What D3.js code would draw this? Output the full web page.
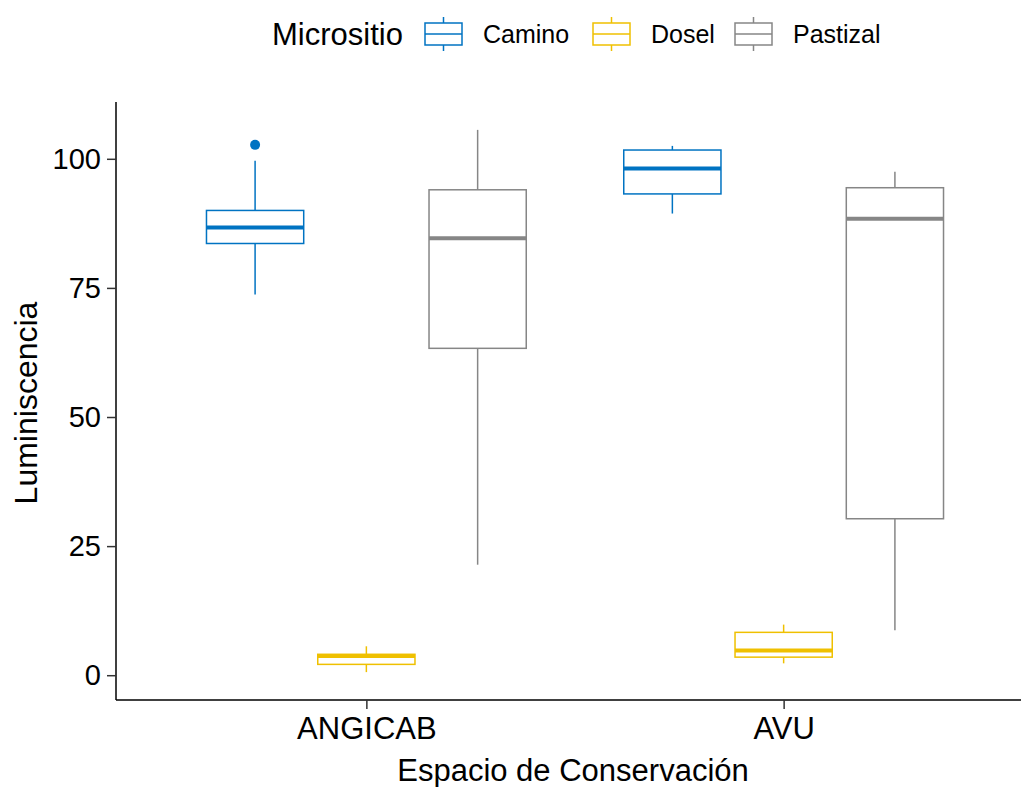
<!DOCTYPE html>
<html>
<head>
<meta charset="utf-8">
<script src="https://cdn.jsdelivr.net/npm/d3@7"></script>
<style>
  body { margin: 0; background: #fff; }
  svg { font-family: "Liberation Sans", Arial, sans-serif; }
</style>
</head>
<body>
<svg class="chart" width="1021" height="787"></svg>
<script>
// data
const sites = ["ANGICAB", "AVU"];
const microsites = ["Camino", "Dosel", "Pastizal"];
const colors = ["#0073C2", "#EFC000", "#868686"];

// one row per site, one entry per micrositio
const lowerWhisker = [[73.7, 0.6, 21.4], [89.4, 2.3, 8.7]];
const q1 = [[83.6, 2.1, 63.3], [93.2, 3.5, 30.3]];
const median = [[86.7, 3.7, 84.6], [98.1, 4.8, 88.4]];
const q3 = [[90.0, 4.05, 94.0], [101.7, 8.3, 94.4]];
const upperWhisker = [[99.6, 5.6, 105.6], [102.5, 9.8, 97.5]];
const outliers = [[[102.7], [], []], [[], [], []]];

const yTicks = [0, 25, 50, 75, 100];

const boxes = [];
sites.forEach((s, i) => {
  microsites.forEach((m, j) => {
    boxes.push({
      site: s, micro: m, j: j,
      lo: lowerWhisker[i][j], q1: q1[i][j], med: median[i][j],
      q3: q3[i][j], hi: upperWhisker[i][j], out: outliers[i][j]
    });
  });
});

const svg = d3.select(".chart");
const panel = { left: 116, right: 1034, top: 102, bottom: 700 };

//make scales
const xScale = d3.scalePoint()
  .domain(sites)
  .range([panel.left, panel.right])
  .padding(0.6);
const step = xScale.step();
const dodge = d3.scaleBand()
  .domain(microsites)
  .range([-0.4 * step, 0.4 * step]);
const boxWidth = 0.233 * step;
const yScale = d3.scaleLinear()
  .domain([-4.8, 111])
  .range([panel.bottom, panel.top]);
const color = d3.scaleOrdinal().domain(microsites).range(colors);

const cx = d => xScale(d.site) + dodge(d.micro) + dodge.bandwidth() / 2;

// boxes
const g = svg.append("g");
const box = g.selectAll("g.box").data(boxes).enter().append("g").attr("class", "box");

box.append("line")
  .attr("x1", cx).attr("x2", cx)
  .attr("y1", d => yScale(d.q3)).attr("y2", d => yScale(d.hi))
  .attr("stroke", d => color(d.micro)).attr("stroke-width", 1.5);
box.append("line")
  .attr("x1", cx).attr("x2", cx)
  .attr("y1", d => yScale(d.q1)).attr("y2", d => yScale(d.lo))
  .attr("stroke", d => color(d.micro)).attr("stroke-width", 1.5);
box.append("rect")
  .attr("x", d => cx(d) - boxWidth / 2)
  .attr("width", boxWidth)
  .attr("y", d => yScale(d.q3))
  .attr("height", d => yScale(d.q1) - yScale(d.q3))
  .attr("fill", "#fff")
  .attr("stroke", d => color(d.micro)).attr("stroke-width", 1.5);
box.append("line")
  .attr("x1", d => cx(d) - boxWidth / 2).attr("x2", d => cx(d) + boxWidth / 2)
  .attr("y1", d => yScale(d.med)).attr("y2", d => yScale(d.med))
  .attr("stroke", d => color(d.micro)).attr("stroke-width", 4);
box.selectAll("circle")
  .data(d => d.out.map(v => ({ v: v, d: d })))
  .enter().append("circle")
  .attr("cx", o => cx(o.d))
  .attr("cy", o => yScale(o.v))
  .attr("r", 5)
  .attr("fill", o => color(o.d.micro));

//make axis
const yAxis = svg.append("g")
  .attr("transform", `translate(${panel.left},0)`)
  .call(d3.axisLeft(yScale).tickValues(yTicks).tickSizeOuter(0).tickSize(9).tickPadding(6));
yAxis.select(".domain").attr("stroke", "#000").attr("stroke-width", 1.5)
  .attr("d", `M0,${panel.top}V${panel.bottom}`);
yAxis.selectAll(".tick line").attr("stroke", "#333").attr("stroke-width", 1.5);
yAxis.selectAll(".tick text").attr("fill", "#000").style("font-size", "29px");

const xAxis = svg.append("g")
  .attr("transform", `translate(0,${panel.bottom})`)
  .call(d3.axisBottom(xScale).tickSizeOuter(0).tickSize(9).tickPadding(8));
xAxis.select(".domain").attr("stroke", "#000").attr("stroke-width", 1.5)
  .attr("d", `M${panel.left},0H${panel.right}`);
xAxis.selectAll(".tick line").attr("stroke", "#333").attr("stroke-width", 1.5);
xAxis.selectAll(".tick text").attr("fill", "#000").style("font-size", "31px");

// axis titles
svg.append("text")
  .attr("x", 573).attr("y", 781)
  .attr("text-anchor", "middle")
  .style("font-size", "31px")
  .text("Espacio de Conservación");
svg.append("text")
  .attr("transform", `translate(37,${(panel.top + panel.bottom) / 2 + 2}) rotate(-90)`)
  .attr("text-anchor", "middle")
  .style("font-size", "32px")
  .text("Luminiscencia");

// legend
const legend = svg.append("g");
legend.append("text")
  .attr("x", 272).attr("y", 45)
  .style("font-size", "31px")
  .text("Micrositio");
const keyX = [425, 593, 735];
const keyW = 37;
const keyCy = 34;
const item = legend.selectAll("g.key").data(microsites).enter().append("g")
  .attr("class", "key")
  .attr("transform", (d, i) => `translate(${keyX[i]},0)`);
item.append("line")
  .attr("x1", keyW / 2).attr("x2", keyW / 2)
  .attr("y1", keyCy - 17).attr("y2", keyCy + 17)
  .attr("stroke", d => color(d)).attr("stroke-width", 1.5);
item.append("rect")
  .attr("x", 0).attr("width", keyW)
  .attr("y", keyCy - 11).attr("height", 22)
  .attr("fill", "#fff")
  .attr("stroke", d => color(d)).attr("stroke-width", 1.5);
item.append("line")
  .attr("x1", 0).attr("x2", keyW)
  .attr("y1", keyCy).attr("y2", keyCy)
  .attr("stroke", d => color(d)).attr("stroke-width", 1.5);
item.append("text")
  .attr("x", keyW + 21).attr("y", keyCy + 9)
  .style("font-size", "25px")
  .text(d => d);
</script>
</body>
</html>
